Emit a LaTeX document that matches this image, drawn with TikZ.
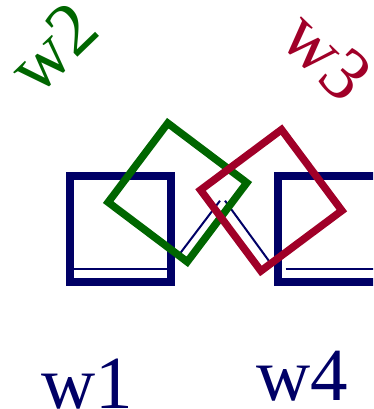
\documentclass[tikz,border=0pt]{standalone}
\usepackage{fontspec}
\setmainfont{Liberation Serif}
\usepackage{tikz}
\usetikzlibrary{calc}

\definecolor{wnavy}{RGB}{0,0,102}
\definecolor{wgreen}{RGB}{0,102,0}
\definecolor{wred}{RGB}{160,0,40}

\begin{document}
\begin{tikzpicture}[
  x=1pt, y=1pt,
  box/.style   = {draw, rectangle, line width=8pt, outer sep=0pt, inner sep=0pt},
  sqbox/.style = {box, line width=7.5pt, minimum size=100pt},
  wlabel/.style = {font=\fontsize{75}{75}\selectfont, inner sep=0pt},
  thin/.style  = {draw=wnavy, line width=2pt},
]
  \useasboundingbox (0,0) rectangle (373,409);
  \clip (0,0) rectangle (373,409);

  % upright frames
  \node[box, draw=wnavy, minimum width=101.3pt, minimum height=106pt] (w1box) at (120.4,180.3) {};
  \node[box, draw=wnavy, minimum width=101.3pt, minimum height=106pt] (w4box) at (328.2,180.3) {};

  % floor lines inside the frames
  \draw[thin] ($(w1box.south west)+(4,12.7)$) -- ($(w1box.south east)+(-4,12.7)$);
  \draw[thin] ($(w4box.south west)+(8,12.7)$) -- ($(w4box.south east)+(0,12.7)$);

  % the roof between the frames
  \coordinate (roofL)  at (180,155.5);
  \coordinate (peakL)  at (220,208.3);
  \coordinate (peakR)  at (225,208.3);
  \coordinate (roofR)  at (269.5,147.3);
  \draw[thin] (roofL) -- (peakL);
  \draw[thin] (peakR) -- (roofR);

  % tilted frames
  \node[sqbox, draw=wgreen, minimum size=99pt, rotate=53]    (w2box) at (177.5,216.5) {};
  \node[sqbox, draw=wred,   minimum size=101pt, rotate=36.7] (w3box) at (271.2,208.7) {};

  \node[wlabel, text=wnavy,  anchor=base]    (w1) at (87,1)    {w1};
  \node[wlabel, text=wgreen, rotate=44]      (w2) at (53,361)  {w2};
  \node[wlabel, text=wred,   rotate=-44]     (w3) at (327,353) {w3};
  \node[wlabel, text=wnavy,  anchor=base]    (w4) at (302,9)   {w4};
\end{tikzpicture}
\end{document}
